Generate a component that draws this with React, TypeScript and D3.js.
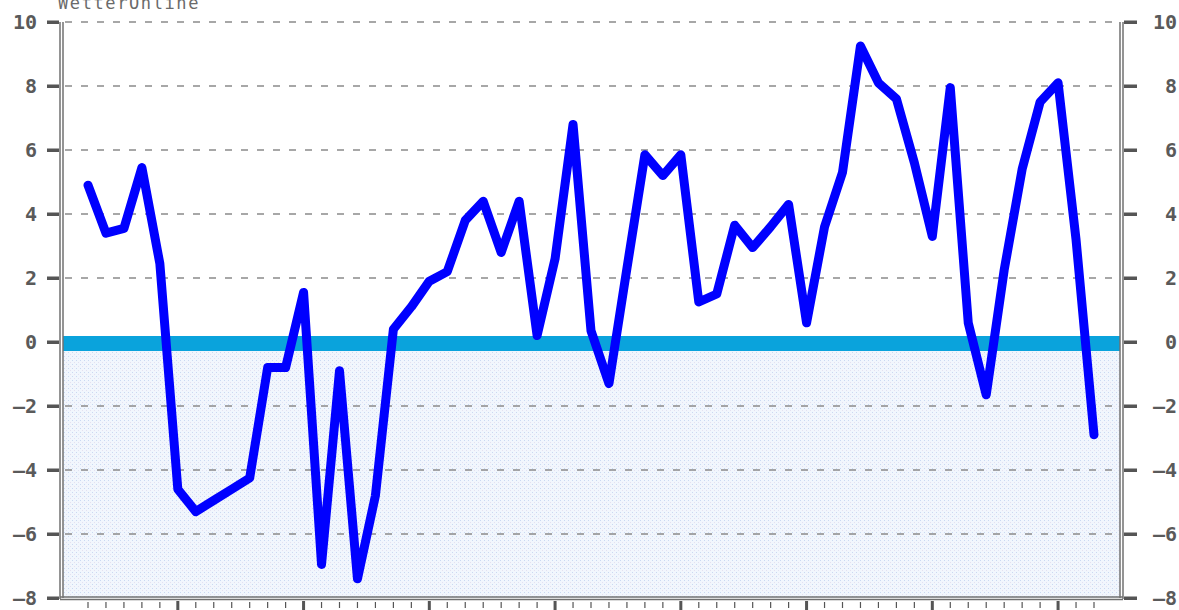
import React from "react";
import * as d3 from "d3";

const dayIndex: number[] = Array.from({ length: 57 }, (_, i) => i);
const values: number[] = [
  4.9, 3.4, 3.55, 5.45, 2.45, -4.6, -5.3, -4.95, -4.6, -4.25,
  -0.8, -0.8, 1.55, -6.95, -0.9, -7.4, -4.8, 0.4, 1.1, 1.9,
  2.2, 3.8, 4.4, 2.8, 4.4, 0.2, 2.6, 6.8, 0.35, -1.3,
  2.3, 5.85, 5.2, 5.85, 1.25, 1.5, 3.65, 2.95, 3.6, 4.3,
  0.6, 3.6, 5.3, 9.25, 8.1, 7.6, 5.6, 3.3, 7.95, 0.6,
  -1.65, 2.25, 5.4, 7.5, 8.1, 3.2, -2.9,
];
const yTicks: number[] = [10, 8, 6, 4, 2, 0, -2, -4, -6, -8];
const majorTickDays: number[] = [5, 12, 19, 26, 33, 40, 47, 54];
const title = "WetterOnline";

export default function App() {
  const W = 1179;
  const H = 610;
  const left = 62;
  const right = 1121;
  const y = d3.scaleLinear().domain([-8, 10]).range([598, 22]);
  const x = d3.scaleLinear().domain([0, 56]).range([88, 1094]);
  const line = d3
    .line<number>()
    .x((_, i) => x(dayIndex[i]))
    .y((d) => y(d));
  const font = "'DejaVu Sans Mono', 'Liberation Mono', monospace";
  const labelColor = "#5a5a5a";
  const axisColor = "#707070";

  return (
    <svg
      width={W}
      height={H}
      style={{ position: "absolute", left: 0, top: 0, background: "#fff" }}
    >
      <defs>
        <pattern id="dots" width="4" height="4" patternUnits="userSpaceOnUse">
          <rect width="4" height="4" fill="#f1f6fd" />
          <rect x="0" y="0" width="1" height="1" fill="#c9d9f2" />
          <rect x="2" y="2" width="1" height="1" fill="#e4e0f0" />
        </pattern>
      </defs>
      {/* shaded negative region */}
      <rect
        x={left + 1}
        y={y(0)}
        width={right - left - 2}
        height={y(-8) - y(0)}
        fill="url(#dots)"
      />
      {/* grid lines */}
      {yTicks
        .filter((t) => t !== 0 && t !== -8)
        .map((t) => (
          <line
            key={"g" + t}
            x1={left + 3}
            x2={right - 3}
            y1={y(t)}
            y2={y(t)}
            stroke="#8a8a8a"
            strokeWidth={1.5}
            strokeDasharray="7,9"
          />
        ))}
      {/* zero band */}
      <rect
        x={left + 1}
        y={y(0) - 6}
        width={right - left - 2}
        height={15}
        fill="#0aa3dc"
      />
      {/* left axis double line */}
      <line x1={left - 2} x2={left - 2} y1={y(10)} y2={y(-8) + 1} stroke={axisColor} strokeWidth={1.5} />
      <line x1={left + 1} x2={left + 1} y1={y(10)} y2={y(-8)} stroke={axisColor} strokeWidth={1.5} />
      {/* right axis double line */}
      <line x1={right - 1} x2={right - 1} y1={y(10)} y2={y(-8)} stroke={axisColor} strokeWidth={1.5} />
      <line x1={right + 2} x2={right + 2} y1={y(10)} y2={y(-8) + 1} stroke={axisColor} strokeWidth={1.5} />
      {/* bottom axis double line */}
      <line x1={left - 2} x2={right + 2} y1={y(-8) - 1} y2={y(-8) - 1} stroke={axisColor} strokeWidth={1.5} />
      <line x1={left - 2} x2={right + 2} y1={y(-8) + 1.5} y2={y(-8) + 1.5} stroke={axisColor} strokeWidth={1.5} />
      {/* y ticks and labels */}
      {yTicks.map((t) => (
        <g key={"t" + t}>
          <rect x={47} y={y(t) - 1.5} width={12} height={3.5} fill="#555" />
          <rect x={right + 3} y={y(t) - 1.5} width={13} height={3.5} fill="#555" />
          <text
            x={37}
            y={y(t) + 7}
            textAnchor="end"
            fontFamily={font}
            fontWeight="bold"
            fontSize={20}
            fill={labelColor}
          >
            {String(t).replace("-", "\u2013")}
          </text>
          <text
            x={1177}
            y={y(t) + 7}
            textAnchor="end"
            fontFamily={font}
            fontWeight="bold"
            fontSize={20}
            fill={labelColor}
          >
            {String(t).replace("-", "\u2013")}
          </text>
        </g>
      ))}
      {/* x ticks */}
      {dayIndex.map((d) => {
        const major = majorTickDays.includes(d);
        return major ? (
          <rect key={"x" + d} x={x(d) - 1.5} y={601} width={3} height={9} fill="#555" />
        ) : (
          <line key={"x" + d} x1={x(d)} x2={x(d)} y1={602} y2={608} stroke="#555" strokeWidth={1.2} />
        );
      })}
      {/* data line */}
      <path
        d={line(values) || ""}
        fill="none"
        stroke="#0000ff"
        strokeWidth={9}
        strokeLinejoin="round"
        strokeLinecap="round"
      />
      {/* title */}
      <text
        x={58}
        y={9}
        fontFamily={font}
        fontSize={17}
        letterSpacing={1.6}
        fill="#6a6a6a"
      >
        {title}
      </text>
    </svg>
  );
}
